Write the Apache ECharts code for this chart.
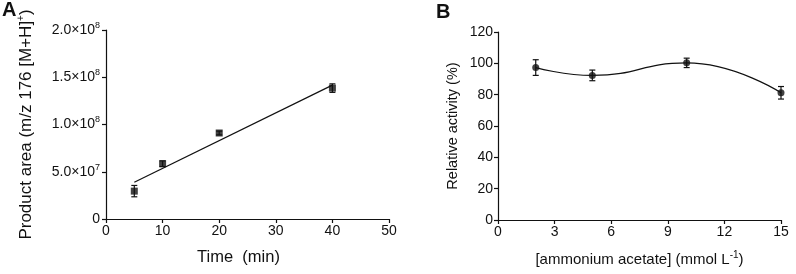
<!DOCTYPE html>
<html>
<head>
<meta charset="utf-8">
<script src="https://cdn.jsdelivr.net/npm/echarts@6/dist/echarts.min.js"></script>
<style>
  html, body { margin: 0; padding: 0; background: #fff; }
  #chart { width: 796px; height: 274px; }
</style>
</head>
<body>
<div id="chart"></div>
<script>
// panel A: product area vs time
const timeMin = [5, 10, 20, 40]
const productArea = [2.95e7, 5.85e7, 9.1e7, 1.385e8]
const productErr = [6e6, 3e6, 2e6, 4.5e6]
// linear fit drawn in the figure (end points)
const fitTime = [5, 40]
const fitArea = [3.88e7, 1.417e8]

// panel B: relative activity vs ammonium acetate
const acetate = [2, 5, 10, 15]
const activity = [97.3, 92.3, 100.3, 81.2]
const activityErr = [5, 3.4, 3, 4]

const FONT = 'Liberation Sans, Arial, sans-serif'
const ink = '#111'

const chart = echarts.init(document.getElementById('chart'), null, { renderer: 'canvas' })

function errBars(xs, ys, es) {
  return xs.map((x, i) => [x, ys[i] - es[i], ys[i] + es[i]])
}

function renderErr(params, api) {
  const lo = api.coord([api.value(0), api.value(1)])
  const hi = api.coord([api.value(0), api.value(2)])
  const w = 3
  const style = { stroke: ink, lineWidth: 1.2 }
  return {
    type: 'group',
    children: [
      { type: 'line', shape: { x1: lo[0], y1: lo[1], x2: hi[0], y2: hi[1] }, style },
      { type: 'line', shape: { x1: lo[0] - w, y1: lo[1], x2: lo[0] + w, y2: lo[1] }, style },
      { type: 'line', shape: { x1: hi[0] - w, y1: hi[1], x2: hi[0] + w, y2: hi[1] }, style },
    ],
  }
}

const axisCommon = {
  axisLine: { show: true, lineStyle: { color: ink, width: 1.2 } },
  axisTick: { show: true, length: 4, lineStyle: { color: ink, width: 1.2 } },
  splitLine: { show: false },
  axisLabel: { color: ink, fontFamily: FONT, fontSize: 14, margin: 5 },
  nameTextStyle: { color: ink, fontFamily: FONT, fontSize: 15 },
}

function supRich(size) {
  return {
    t: { fontFamily: FONT, fontSize: size, color: ink, lineHeight: 20 },
    s: { fontFamily: FONT, fontSize: 10, color: ink, verticalAlign: 'top', lineHeight: 20, padding: [0, 0, 8, 0] },
  }
}

chart.setOption({
  animation: false,
  backgroundColor: '#fff',
  graphic: [
    { type: 'text', left: 2, top: 0, style: { text: 'A', font: 'bold 20px ' + FONT, fill: ink } },
    { type: 'text', left: 436, top: 2, style: { text: 'B', font: 'bold 20px ' + FONT, fill: ink } },
  ],
  grid: [
    { left: 106, right: 407, top: 30, bottom: 55 },
    { left: 498, right: 15, top: 32, bottom: 54 },
  ],
  xAxis: [
    {
      ...axisCommon,
      gridIndex: 0, type: 'value', min: 0, max: 50, interval: 10,
      name: 'Time  (min)', nameLocation: 'middle', nameGap: 30,
      nameTextStyle: { ...axisCommon.nameTextStyle, fontSize: 16.5, padding: [0, 18, 0, 0] },
    },
    {
      ...axisCommon,
      gridIndex: 1, type: 'value', min: 0, max: 15, interval: 3,
      name: '{t|[ammonium acetate] (mmol L}{s|-1}{t|)}', nameLocation: 'middle', nameGap: 30,
      nameTextStyle: { ...axisCommon.nameTextStyle, rich: supRich(15) },
    },
  ],
  yAxis: [
    {
      ...axisCommon,
      gridIndex: 0, type: 'value', min: 0, max: 2e8, interval: 5e7,
      axisLabel: {
        ...axisCommon.axisLabel,
        margin: 6,
        formatter: v => {
          if (v === 0) return '0'
          const e = Math.floor(Math.log10(v))
          return '{b|' + (v / Math.pow(10, e)).toFixed(1) + '×10}{s|' + e + '}'
        },
        rich: {
          b: { fontFamily: FONT, fontSize: 14, color: ink, lineHeight: 18 },
          s: { fontFamily: FONT, fontSize: 9, color: ink, verticalAlign: 'top', lineHeight: 18, padding: [0, 0, 8, 0] },
        },
      },
      name: '{t|Product area (m/z 176 [M+H]}{s|+}{t|)}', nameLocation: 'middle', nameGap: 70,
      nameTextStyle: { ...axisCommon.nameTextStyle, rich: supRich(17) },
    },
    {
      ...axisCommon,
      gridIndex: 1, type: 'value', min: 0, max: 120, interval: 20,
      name: 'Relative activity (%)', nameLocation: 'middle', nameGap: 38,
      nameTextStyle: { ...axisCommon.nameTextStyle, fontSize: 14.5 },
    },
  ],
  series: [
    {
      type: 'line', xAxisIndex: 0, yAxisIndex: 0,
      data: fitTime.map((x, i) => [x, fitArea[i]]),
      symbol: 'none', lineStyle: { color: ink, width: 1.2 },
    },
    {
      type: 'custom', xAxisIndex: 0, yAxisIndex: 0,
      data: errBars(timeMin, productArea, productErr), renderItem: renderErr, z: 3,
    },
    {
      type: 'scatter', xAxisIndex: 0, yAxisIndex: 0,
      data: timeMin.map((x, i) => [x, productArea[i]]),
      symbol: 'rect', symbolSize: 7, itemStyle: { color: ink }, z: 4,
    },
    {
      type: 'line', xAxisIndex: 1, yAxisIndex: 1,
      data: acetate.map((x, i) => [x, activity[i]]),
      smooth: 0.5, symbol: 'none', lineStyle: { color: ink, width: 1.2 },
    },
    {
      type: 'custom', xAxisIndex: 1, yAxisIndex: 1,
      data: errBars(acetate, activity, activityErr), renderItem: renderErr, z: 3,
    },
    {
      type: 'scatter', xAxisIndex: 1, yAxisIndex: 1,
      data: acetate.map((x, i) => [x, activity[i]]),
      symbol: 'circle', symbolSize: 7, itemStyle: { color: ink }, z: 4,
    },
  ],
})
</script>
</body>
</html>
